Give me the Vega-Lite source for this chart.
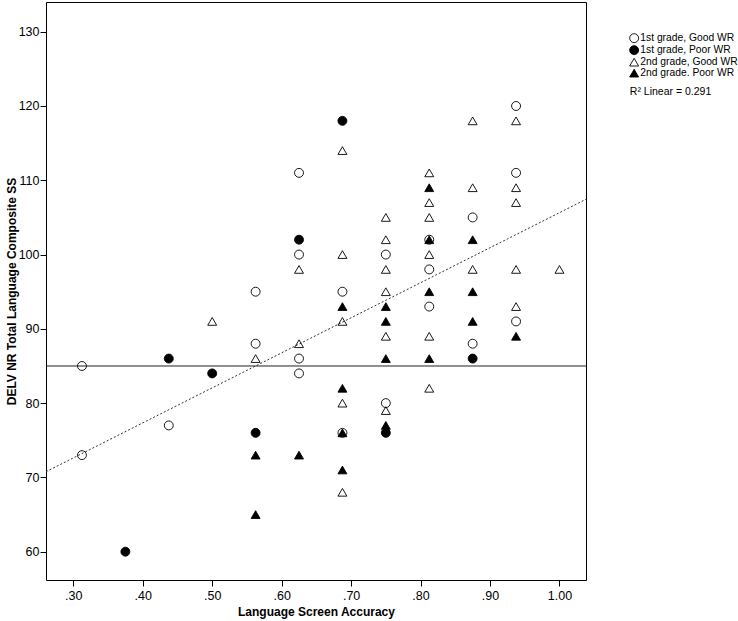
{
  "$schema": "https://vega.github.io/schema/vega-lite/v6.json",
  "width": 540,
  "height": 578,
  "autosize": {"type": "none"},
  "padding": {"left": 46, "top": 2, "right": 152, "bottom": 41},
  "background": "white",
  "config": {
    "font": "Liberation Sans",
    "view": {"stroke": "black", "strokeWidth": 1},
    "axis": {
      "grid": false,
      "domain": false,
      "tickColor": "black",
      "tickWidth": 1,
      "labelColor": "black",
      "labelFont": "Liberation Sans",
      "labelFontSize": 12.5,
      "titleColor": "black",
      "titleFont": "Liberation Sans",
      "titleFontSize": 12,
      "titleFontWeight": "bold"
    }
  },
  "layer": [
    {
      "data": {"values": [{"ref": 85}]},
      "mark": {"type": "rule", "color": "#222222", "strokeWidth": 1},
      "encoding": {
        "y": {"field": "ref", "type": "quantitative", "scale": {"domain": [56.19, 134.0], "nice": false, "zero": false}}
      }
    },
    {
      "data": {"values": [{"acc": 0.2607, "fit": 70.77}, {"acc": 1.0382, "fit": 107.44}]},
      "mark": {"type": "line", "color": "#333333", "strokeWidth": 1, "strokeDash": [2, 2]},
      "encoding": {
        "x": {"field": "acc", "type": "quantitative", "scale": {"domain": [0.2607, 1.0382], "nice": false, "zero": false}},
        "y": {"field": "fit", "type": "quantitative", "scale": {"domain": [56.19, 134.0], "nice": false, "zero": false}}
      }
    },
    {
      "data": {"values": [
        {"acc": 0.3125, "ss": 85, "group": "1st grade, Good WR"},
        {"acc": 0.3125, "ss": 73, "group": "1st grade, Good WR"},
        {"acc": 0.375, "ss": 60, "group": "1st grade, Poor WR"},
        {"acc": 0.4375, "ss": 86, "group": "1st grade, Poor WR"},
        {"acc": 0.4375, "ss": 77, "group": "1st grade, Good WR"},
        {"acc": 0.5, "ss": 91, "group": "2nd grade, Good WR"},
        {"acc": 0.5, "ss": 84, "group": "1st grade, Poor WR"},
        {"acc": 0.5625, "ss": 95, "group": "1st grade, Good WR"},
        {"acc": 0.5625, "ss": 88, "group": "1st grade, Good WR"},
        {"acc": 0.5625, "ss": 86, "group": "2nd grade, Good WR"},
        {"acc": 0.5625, "ss": 76, "group": "1st grade, Poor WR"},
        {"acc": 0.5625, "ss": 73, "group": "2nd grade. Poor WR"},
        {"acc": 0.5625, "ss": 65, "group": "2nd grade. Poor WR"},
        {"acc": 0.625, "ss": 111, "group": "1st grade, Good WR"},
        {"acc": 0.625, "ss": 102, "group": "1st grade, Poor WR"},
        {"acc": 0.625, "ss": 100, "group": "1st grade, Good WR"},
        {"acc": 0.625, "ss": 98, "group": "2nd grade, Good WR"},
        {"acc": 0.625, "ss": 88, "group": "2nd grade, Good WR"},
        {"acc": 0.625, "ss": 86, "group": "1st grade, Good WR"},
        {"acc": 0.625, "ss": 84, "group": "1st grade, Good WR"},
        {"acc": 0.625, "ss": 73, "group": "2nd grade. Poor WR"},
        {"acc": 0.6875, "ss": 118, "group": "1st grade, Poor WR"},
        {"acc": 0.6875, "ss": 114, "group": "2nd grade, Good WR"},
        {"acc": 0.6875, "ss": 100, "group": "2nd grade, Good WR"},
        {"acc": 0.6875, "ss": 95, "group": "1st grade, Good WR"},
        {"acc": 0.6875, "ss": 93, "group": "2nd grade. Poor WR"},
        {"acc": 0.6875, "ss": 91, "group": "2nd grade, Good WR"},
        {"acc": 0.6875, "ss": 82, "group": "2nd grade. Poor WR"},
        {"acc": 0.6875, "ss": 80, "group": "2nd grade, Good WR"},
        {"acc": 0.6875, "ss": 76, "group": "1st grade, Good WR"},
        {"acc": 0.6875, "ss": 76, "group": "2nd grade. Poor WR"},
        {"acc": 0.6875, "ss": 71, "group": "2nd grade. Poor WR"},
        {"acc": 0.6875, "ss": 68, "group": "2nd grade, Good WR"},
        {"acc": 0.75, "ss": 105, "group": "2nd grade, Good WR"},
        {"acc": 0.75, "ss": 102, "group": "2nd grade, Good WR"},
        {"acc": 0.75, "ss": 100, "group": "1st grade, Good WR"},
        {"acc": 0.75, "ss": 98, "group": "2nd grade, Good WR"},
        {"acc": 0.75, "ss": 95, "group": "2nd grade, Good WR"},
        {"acc": 0.75, "ss": 93, "group": "2nd grade. Poor WR"},
        {"acc": 0.75, "ss": 91, "group": "2nd grade. Poor WR"},
        {"acc": 0.75, "ss": 89, "group": "2nd grade, Good WR"},
        {"acc": 0.75, "ss": 86, "group": "2nd grade. Poor WR"},
        {"acc": 0.75, "ss": 80, "group": "1st grade, Good WR"},
        {"acc": 0.75, "ss": 79, "group": "2nd grade, Good WR"},
        {"acc": 0.75, "ss": 77, "group": "2nd grade. Poor WR"},
        {"acc": 0.75, "ss": 76, "group": "1st grade, Poor WR"},
        {"acc": 0.8125, "ss": 111, "group": "2nd grade, Good WR"},
        {"acc": 0.8125, "ss": 109, "group": "2nd grade. Poor WR"},
        {"acc": 0.8125, "ss": 107, "group": "2nd grade, Good WR"},
        {"acc": 0.8125, "ss": 105, "group": "2nd grade, Good WR"},
        {"acc": 0.8125, "ss": 102, "group": "1st grade, Good WR"},
        {"acc": 0.8125, "ss": 102, "group": "2nd grade. Poor WR"},
        {"acc": 0.8125, "ss": 100, "group": "2nd grade, Good WR"},
        {"acc": 0.8125, "ss": 98, "group": "1st grade, Good WR"},
        {"acc": 0.8125, "ss": 95, "group": "2nd grade. Poor WR"},
        {"acc": 0.8125, "ss": 93, "group": "1st grade, Good WR"},
        {"acc": 0.8125, "ss": 89, "group": "2nd grade, Good WR"},
        {"acc": 0.8125, "ss": 86, "group": "2nd grade. Poor WR"},
        {"acc": 0.8125, "ss": 82, "group": "2nd grade, Good WR"},
        {"acc": 0.875, "ss": 118, "group": "2nd grade, Good WR"},
        {"acc": 0.875, "ss": 109, "group": "2nd grade, Good WR"},
        {"acc": 0.875, "ss": 105, "group": "1st grade, Good WR"},
        {"acc": 0.875, "ss": 102, "group": "2nd grade. Poor WR"},
        {"acc": 0.875, "ss": 98, "group": "2nd grade, Good WR"},
        {"acc": 0.875, "ss": 95, "group": "2nd grade. Poor WR"},
        {"acc": 0.875, "ss": 91, "group": "2nd grade. Poor WR"},
        {"acc": 0.875, "ss": 88, "group": "1st grade, Good WR"},
        {"acc": 0.875, "ss": 86, "group": "1st grade, Poor WR"},
        {"acc": 0.9375, "ss": 120, "group": "1st grade, Good WR"},
        {"acc": 0.9375, "ss": 118, "group": "2nd grade, Good WR"},
        {"acc": 0.9375, "ss": 111, "group": "1st grade, Good WR"},
        {"acc": 0.9375, "ss": 109, "group": "2nd grade, Good WR"},
        {"acc": 0.9375, "ss": 107, "group": "2nd grade, Good WR"},
        {"acc": 0.9375, "ss": 98, "group": "2nd grade, Good WR"},
        {"acc": 0.9375, "ss": 93, "group": "2nd grade, Good WR"},
        {"acc": 0.9375, "ss": 91, "group": "1st grade, Good WR"},
        {"acc": 0.9375, "ss": 89, "group": "2nd grade. Poor WR"},
        {"acc": 1.0, "ss": 98, "group": "2nd grade, Good WR"}
      ]},
      "mark": {"type": "point", "filled": true, "stroke": "black", "strokeWidth": 0.9, "opacity": 1},
      "encoding": {
        "x": {
          "field": "acc", "type": "quantitative",
          "scale": {"domain": [0.2607, 1.0382], "nice": false, "zero": false},
          "axis": {
            "values": [0.3, 0.4, 0.5, 0.6, 0.7, 0.8, 0.9, 1.0],
            "labelExpr": "datum.value >= 1 ? format(datum.value, '.2f') : slice(format(datum.value, '.2f'), 1)",
            "tickSize": 6,
            "labelPadding": 3,
            "title": "Language Screen Accuracy",
            "titlePadding": 5
          }
        },
        "y": {
          "field": "ss", "type": "quantitative",
          "scale": {"domain": [56.19, 134.0], "nice": false, "zero": false},
          "axis": {
            "values": [60, 70, 80, 90, 100, 110, 120, 130],
            "tickSize": 6,
            "labelPadding": 1,
            "title": "DELV NR Total Language Composite SS",
            "titlePadding": 0
          }
        },
        "shape": {
          "field": "group", "type": "nominal", "title": null,
          "scale": {
            "domain": ["1st grade, Good WR", "1st grade, Poor WR", "2nd grade, Good WR", "2nd grade. Poor WR"],
            "range": ["circle", "circle", "triangle-up", "triangle-up"]
          },
          "legend": {
            "orient": "none", "legendX": 583, "legendY": 31, "padding": 0,
            "labelFontSize": 10.3, "labelColor": "black", "labelFont": "Liberation Sans",
            "labelOffset": 1, "rowPadding": -2.5, "labelLimit": 200,
            "symbolStrokeColor": "black", "symbolStrokeWidth": 0.9, "symbolOpacity": 1
          }
        },
        "fill": {
          "field": "group", "type": "nominal", "title": null,
          "scale": {
            "domain": ["1st grade, Good WR", "1st grade, Poor WR", "2nd grade, Good WR", "2nd grade. Poor WR"],
            "range": ["transparent", "black", "transparent", "black"]
          }
        },
        "size": {
          "field": "group", "type": "nominal", "title": null,
          "scale": {
            "domain": ["1st grade, Good WR", "1st grade, Poor WR", "2nd grade, Good WR", "2nd grade. Poor WR"],
            "range": [80, 80, 45, 45]
          }
        }
      }
    },
    {
      "data": {"values": [{"acc": 1.1013, "ss": 121.92, "label": "R² Linear = 0.291"}]},
      "mark": {"type": "text", "align": "left", "baseline": "middle", "fontSize": 10.5, "color": "black", "font": "Liberation Sans"},
      "encoding": {
        "x": {"field": "acc", "type": "quantitative", "scale": {"domain": [0.2607, 1.0382], "nice": false, "zero": false}},
        "y": {"field": "ss", "type": "quantitative", "scale": {"domain": [56.19, 134.0], "nice": false, "zero": false}},
        "text": {"field": "label"}
      }
    }
  ]
}
